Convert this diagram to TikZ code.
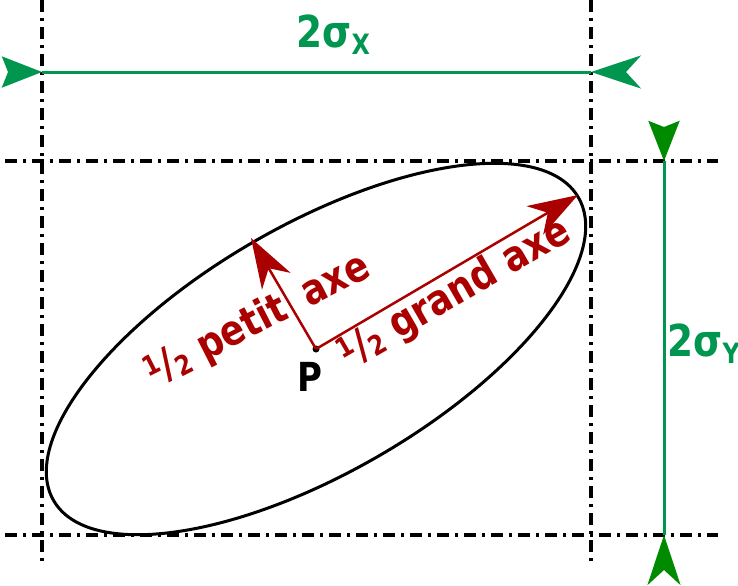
\documentclass[tikz,border=0pt]{standalone}
\usepackage{fontspec}
\setmainfont{DejaVu Sans}[FakeStretch=0.85]
\usetikzlibrary{arrows.meta}
\definecolor{sigmagreen}{RGB}{0,150,80}
\definecolor{headgreen}{RGB}{0,138,0}
\definecolor{axered}{RGB}{170,0,0}
\newcommand{\halfsign}{\raisebox{0.27em}{\scalebox{0.65}{1}}/\raisebox{-0.1em}{\scalebox{0.65}{2}}}
\newcommand{\sigsub}[1]{\raisebox{-0.18em}{\fontsize{14}{14}\selectfont #1}}

\begin{document}
\begin{tikzpicture}[
            x=0.5pt,
            y=-0.5pt,
            boxline/.style={
                line width=1.6pt,
                dash pattern=on 6pt off 3pt on 1.5pt off 3pt
            },
            sigmaline/.style={sigmagreen, line width=1.5pt},
            axeline/.style={axered, line width=1.25pt},
            longhead/.style={-{Stealth[length=25pt, width=16.5pt, inset=7.5pt]}},
            shorthead/.style={-{Stealth[length=20pt, width=15.5pt, inset=3pt]}},
            axelabel/.style={
                axered,
                font=\bfseries\fontsize{21}{23}\selectfont,
                inner sep=0pt
            },
            sigmalabel/.style={
                sigmagreen,
                font=\bfseries\fontsize{22}{24}\selectfont,
                inner sep=0pt,
                anchor=base west
            }
        ]
            \useasboundingbox (0,0) rectangle (738,585);

            % 2 sigma box
            \draw[boxline] (42,0) -- (42,565);
            \draw[boxline] (591,0) -- (591,562);
            \draw[boxline] (5,161) -- (718,161);
            \draw[boxline] (5,535) -- (718,535);

            % ellipse and axes
            \node[circle, fill, inner sep=0pt, minimum size=3.5pt] (P) at (316,349) {};
            \draw[line width=1.5pt, rotate around={30:(P.center)}] (P.center) ellipse [x radius=303, y radius=124];
            \coordinate (grand) at (578,195);
            \coordinate (petit) at (251,238);
            \draw[axeline, longhead] (P.center) -- (grand);
            \draw[axeline, longhead] (P.center) -- (petit);
            \node[axelabel, rotate=30] (grand label) at (455,294) {\halfsign{} grand axe};
            \node[axelabel, rotate=27] (petit label) at (258,321) {\halfsign{} petit\hspace{0.5em}axe};
            \node[font=\bfseries\fontsize{20}{22}\selectfont, inner sep=0pt] (P label) at (310,377) {P};

            % sigma x
            \coordinate (sx left) at (42,72);
            \coordinate (sx right) at (591,72);
            \coordinate (sx left out) at (9,72);
            \coordinate (sx right out) at (625,72);
            \draw[sigmaline] (sx left) -- (sx right);
            \draw[sigmaline, shorthead] (sx left out) -- (sx left);
            \draw[sigmaline, longhead] (sx right out) -- (sx right);
            \node[sigmalabel] (sx label) at (296,47) {2σ\sigsub{X}};

            % sigma y
            \coordinate (sy top) at (664,161);
            \coordinate (sy bottom) at (664,535);
            \coordinate (sy top out) at (664,128);
            \coordinate (sy bottom out) at (664,569);
            \draw[sigmaline] (sy top) -- (sy bottom);
            \draw[headgreen, line width=1.5pt, shorthead] (sy top out) -- (sy top);
            \draw[headgreen, line width=1.5pt, longhead] (sy bottom out) -- (sy bottom);
            \node[sigmalabel] (sy label) at (667,356) {2σ\sigsub{Y}};
        \end{tikzpicture}
\end{document}
